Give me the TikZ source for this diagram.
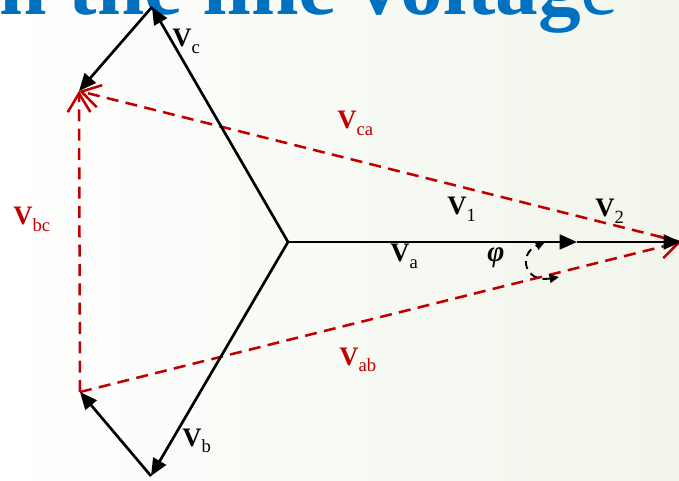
\documentclass[tikz,border=0pt]{standalone}
\usepackage{fontspec}
\setmainfont{Liberation Serif}
\usetikzlibrary{arrows.meta}
\definecolor{ttl}{RGB}{0,112,192}
\definecolor{vred}{RGB}{192,0,0}
\definecolor{bgg}{RGB}{241,245,234}
\newcommand{\vlab}[1]{{\fontsize{20}{20}\selectfont\bfseries V}\raisebox{-5pt}{\fontsize{14}{14}\selectfont #1}}
\begin{document}
\begin{tikzpicture}[x=0.75pt,y=-0.75pt,
  phasor/.style={line width=2pt,-{Triangle[length=13pt,width=11pt]}},
  linev/.style={draw=vred,line width=1.9pt,dash pattern=on 9pt off 5.5pt,-{Straight Barb[length=14pt,width=17pt]}},
  lab/.style={anchor=base west,inner sep=0pt},
  rlab/.style={lab,text=vred}]
\useasboundingbox (0,0) rectangle (679,481);
\clip (0,0) rectangle (679,481);
\shade[left color=white,right color=bgg] (0,0) rectangle (679,481);
% title
\node[anchor=base west,inner sep=0pt,text=ttl,font=\fontsize{64}{64}\selectfont] (title) at (-24,15) {\bfseries in the line voltag\mdseries e};
% points
\coordinate (O) at (288,242);
\coordinate (A) at (152,7);
\coordinate (B) at (151,476);
\coordinate (R) at (681,242);
\coordinate (M) at (577,242);
\coordinate (L1) at (79,91);
\coordinate (L2) at (80,392);
% red line voltages
\draw[linev] (R) -- (L1);
\draw[linev] (L2) -- (L1);
\draw[linev] (L2) -- (R);
% phase voltages
\draw[phasor] (O) -- (A);
\draw[phasor] (A) -- (L1);
\draw[phasor] (O) -- (B);
\draw[phasor] (B) -- (L2);
\draw[phasor] (O) -- (M);
\draw[phasor] (M) -- (R);
% angle
\coordinate (P1) at (559,277);
\coordinate (P2) at (545,242);
\draw[line width=1.4pt,dash pattern=on 6pt off 4pt,{Triangle[length=7pt,width=6.5pt]}-{Triangle[length=7pt,width=6.5pt]}] (P1) .. controls (524,283) and (518,254) .. (P2);
% labels
\node[lab] (vc) at (172,47) {\vlab{c}};
\node[lab] (va) at (390,262) {\vlab{a}};
\node[lab] (vb) at (182,446) {\vlab{b}};
\node[lab] (v1) at (447,215) {\vlab{1}};
\node[lab] (v2) at (595,217) {\vlab{2}};
\node[rlab] (vca) at (337,129) {\vlab{ca}};
\node[rlab] (vbc) at (13,225) {\vlab{bc}};
\node[rlab] (vab) at (339,365) {\vlab{ab}};
\node[inner sep=0pt,font=\fontsize{22}{22}\selectfont\bfseries\itshape] (phi) at (496,258) {φ};
\end{tikzpicture}
\end{document}
